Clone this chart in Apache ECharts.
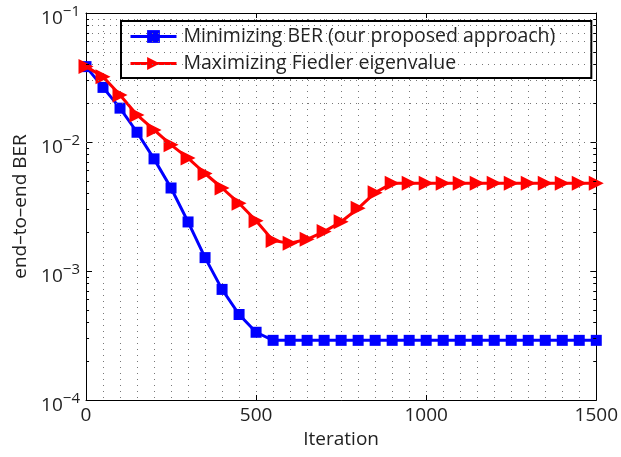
<!DOCTYPE html>
<html>
<head>
<meta charset="utf-8">
<script src="https://cdn.jsdelivr.net/npm/echarts@6/dist/echarts.min.js"></script>
<style>
  html, body { margin: 0; padding: 0; background: #fff; }
  #chart { width: 621px; height: 457px; }
</style>
</head>
<body>
<div id="chart"></div>
<script>
// Iteration index of every sample
const iterations = [0, 50, 100, 150, 200, 250, 300, 350, 400, 450, 500, 550, 600, 650, 700,
  750, 800, 850, 900, 950, 1000, 1050, 1100, 1150, 1200, 1250, 1300, 1350, 1400, 1450, 1500];

// End-to-end BER when minimizing BER directly
const berMinimizing = [0.0384, 0.0265, 0.0183, 0.0119, 0.0074, 0.0044, 0.0024, 0.00127, 0.00072,
  0.00046, 0.000335, 0.00029, 0.00029, 0.00029, 0.00029, 0.00029, 0.00029, 0.00029, 0.00029,
  0.00029, 0.00029, 0.00029, 0.00029, 0.00029, 0.00029, 0.00029, 0.00029, 0.00029, 0.00029,
  0.00029, 0.00029];

// End-to-end BER when maximizing the Fiedler eigenvalue
const berFiedler = [0.0384, 0.0321, 0.0231, 0.0162, 0.0124, 0.0095, 0.0075, 0.0057, 0.0044,
  0.00335, 0.00245, 0.00172, 0.00164, 0.00176, 0.00202, 0.00241, 0.00306, 0.00405, 0.00479,
  0.00479, 0.00479, 0.00479, 0.00479, 0.00479, 0.00479, 0.00479, 0.00479, 0.00479, 0.00479,
  0.00479, 0.00479];

const seriesNames = ['Minimizing BER (our proposed approach)', 'Maximizing Fiedler eigenvalue'];
const yDecades = [1e-4, 1e-3, 1e-2, 1e-1];
const decadeExponent = { 0.0001: '−4', 0.001: '−3', 0.01: '−2', 0.1: '−1' };

const FONT = '"Open Sans", "DejaVu Sans", sans-serif';
const TEXT = '#222';
const FS = 19;

// Log-axis minor positions (2..9 × each decade) for grid lines and inner ticks
const minorValues = [];
yDecades.slice(0, 3).forEach(d => {
  for (let k = 2; k <= 9; k++) minorValues.push(+(d * k).toPrecision(3));
});

const gridDots = { color: '#777', width: 1, type: [1, 5] };
const tickStyle = { color: '#000', width: 1, type: 'solid' };

const gridLines = minorValues.concat(yDecades.slice(1, 3)).map(v => ({ yAxis: v, lineStyle: gridDots }));
const minorTickSegs = [];
minorValues.forEach(v => {
  minorTickSegs.push([{ coord: [0, v], lineStyle: tickStyle }, { coord: [9, v] }]);
  minorTickSegs.push([{ coord: [1491, v], lineStyle: tickStyle }, { coord: [1500, v] }]);
});

const toPairs = ys => iterations.map((x, i) => [x, ys[i]]);

const chart = echarts.init(document.getElementById('chart'), null, { renderer: 'canvas' });

const yLabel = {
  show: true,
  margin: 6,
  padding: [7, 0, 0, 0],
  formatter: v => '{b|10}{s|' + (decadeExponent[v] || '') + '}',
  rich: {
    b: { fontFamily: FONT, fontSize: FS, color: TEXT, lineHeight: 24, verticalAlign: 'bottom' },
    s: { fontFamily: FONT, fontSize: 15, color: TEXT, lineHeight: 14, verticalAlign: 'top' }
  }
};

chart.setOption({
  animation: false,
  backgroundColor: '#fff',
  grid: { left: 86, top: 13, right: 22, bottom: 57, containLabel: false },
  legend: {
    data: seriesNames,
    orient: 'vertical',
    left: 121,
    top: 21,
    padding: [5, 36, 4, 8],
    itemGap: 6,
    itemWidth: 46,
    itemHeight: 16,
    backgroundColor: '#fff',
    borderColor: '#000',
    borderWidth: 2,
    borderRadius: 0,
    lineStyle: { width: 3 },
    textStyle: { fontFamily: FONT, fontSize: 19.5, color: TEXT, lineHeight: 21, padding: [0, 0, 0, 2] }
  },
  xAxis: [{
    type: 'value',
    min: 0, max: 1500, interval: 500,
    name: 'Iteration',
    nameLocation: 'middle',
    nameGap: 28,
    nameTextStyle: { fontFamily: FONT, fontSize: FS, color: TEXT },
    axisLine: { show: true, onZero: false, lineStyle: { color: '#000', width: 1 } },
    axisTick: { show: true, inside: true, length: 5, lineStyle: { color: '#000' } },
    axisLabel: { fontFamily: FONT, fontSize: FS, color: TEXT, margin: 6, formatter: v => String(v) },
    splitLine: { show: true, lineStyle: gridDots },
    minorTick: { show: false, splitNumber: 10 },
    minorSplitLine: { show: true, lineStyle: gridDots }
  }, {
    type: 'value',
    position: 'top',
    min: 0, max: 1500, interval: 500,
    axisLine: { show: true, onZero: false, lineStyle: { color: '#000', width: 1 } },
    axisTick: { show: true, inside: true, length: 5, lineStyle: { color: '#000' } },
    axisLabel: { show: false },
    splitLine: { show: false }
  }],
  yAxis: [{
    type: 'log',
    logBase: 10,
    min: 1e-4, max: 1e-1,
    name: 'end–to–end BER',
    nameLocation: 'middle',
    nameGap: 54,
    nameTextStyle: { fontFamily: FONT, fontSize: FS, color: TEXT },
    axisLine: { show: true, onZero: false, lineStyle: { color: '#000', width: 1 } },
    axisTick: { show: true, inside: true, length: 6, lineStyle: { color: '#000' } },
    axisLabel: yLabel,
    splitLine: { show: false }
  }, {
    type: 'log',
    logBase: 10,
    position: 'right',
    min: 1e-4, max: 1e-1,
    axisLine: { show: true, onZero: false, lineStyle: { color: '#000', width: 1 } },
    axisTick: { show: true, inside: true, length: 6, lineStyle: { color: '#000' } },
    axisLabel: { show: false },
    splitLine: { show: false }
  }],
  series: [
    {
      // grid and minor ticks of the log axis
      name: 'grid',
      type: 'line',
      data: [],
      silent: true,
      z: 1,
      markLine: {
        silent: true,
        symbol: ['none', 'none'],
        label: { show: false },
        animation: false,
        data: gridLines.concat(minorTickSegs)
      }
    },
    {
      name: seriesNames[0],
      type: 'line',
      data: toPairs(berMinimizing),
      z: 3,
      color: '#0000ff',
      lineStyle: { color: '#0000ff', width: 3 },
      symbol: 'rect',
      symbolSize: 11,
      itemStyle: { color: '#0000ff' },
      showAllSymbol: true
    },
    {
      name: seriesNames[1],
      type: 'line',
      data: toPairs(berFiedler),
      z: 4,
      color: '#ff0000',
      lineStyle: { color: '#ff0000', width: 3 },
      symbol: 'triangle',
      symbolRotate: -90,
      symbolSize: [15, 15],
      itemStyle: { color: '#ff0000' },
      showAllSymbol: true
    }
  ]
});
</script>
</body>
</html>
